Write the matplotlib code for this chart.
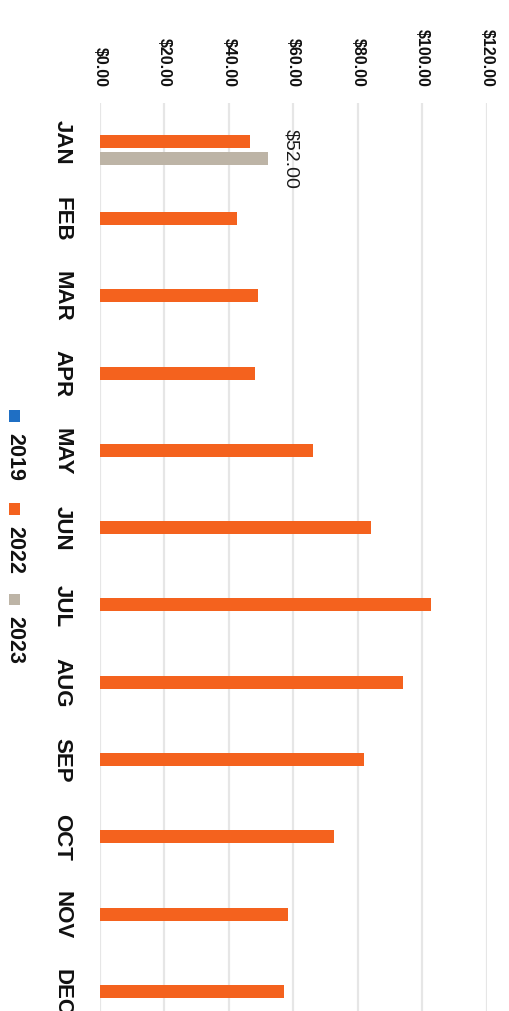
import matplotlib
matplotlib.use("Agg")
import matplotlib.pyplot as plt
from matplotlib.patches import Rectangle
import numpy as np

# Monthly values
months = ["JAN", "FEB", "MAR", "APR", "MAY", "JUN",
          "JUL", "AUG", "SEP", "OCT", "NOV", "DEC"]
series_names = ["2019", "2022", "2023"]
values_2019 = [None] * 12
values_2022 = [46.5, 42.4, 49.1, 48.1, 66.0, 83.9,
               102.7, 94.1, 81.8, 72.6, 58.4, 56.9]
values_2023 = [52.0] + [None] * 11
value_ticks = [0, 20, 40, 60, 80, 100, 120]

colors = {"2019": "#1F6FC4", "2022": "#F4621E", "2023": "#BDB4A6"}

plt.rcParams["font.family"] = ["Liberation Sans", "DejaVu Sans"]

W, H = 510, 1012
fig = plt.figure(figsize=(W / 100, H / 100), dpi=100)
fig.patch.set_facecolor("white")

# plot area in pixels: x 100..487, y 103.5..1031 (runs past the bottom edge)
left, right = 100, 487
top, bottom = 103.5, 1031
ax = fig.add_axes([left / W, 1 - bottom / H, (right - left) / W, (bottom - top) / H])

y = np.arange(len(months))
bar_h = 0.168
offsets = {"2019": -0.22, "2022": 0.0, "2023": 0.22}
series = {"2019": values_2019, "2022": values_2022, "2023": values_2023}

for name in series_names:
    vals = series[name]
    idx = [i for i, v in enumerate(vals) if v is not None]
    if not idx:
        continue
    ax.barh(y[idx] + offsets[name], [vals[i] for i in idx], height=bar_h,
            color=colors[name], edgecolor="none", zorder=3)

# value label on the 2023 January bar
for i, v in enumerate(values_2023):
    if v is not None:
        ax.annotate(f"${v:.2f}", xy=(v, y[i] + offsets["2023"]),
                    xytext=(15, 0), textcoords="offset pixels",
                    rotation=-90, ha="left", va="center",
                    fontsize=14, color="#1a1a1a")

ax.set_xlim(value_ticks[0], value_ticks[-1])
ax.set_ylim(len(months) - 0.5, -0.5)

ax.set_xticks(value_ticks)
ax.set_xticklabels([f"${t:.2f}" for t in value_ticks], rotation=-90,
                   fontsize=11.5, fontweight="bold", color="#111111")
ax.xaxis.tick_top()
ax.tick_params(axis="x", length=0, pad=12)

ax.set_yticks(y)
ax.set_yticklabels(months, rotation=-90, fontsize=16, fontweight="bold",
                   color="#111111", va="center")
ax.tick_params(axis="y", length=0, pad=20)

ax.grid(axis="x", color="#E6E6E6", linewidth=1.6, zorder=0)
for s in ax.spines.values():
    s.set_visible(False)

# legend, laid out along the left edge
leg_x = 15 / W
items = [("2019", 417), ("2022", 510), ("2023", 600)]
for name, ypx in items:
    sq = 11
    fig.add_artist(Rectangle(((leg_x * W - sq / 2) / W, 1 - (ypx + sq / 2) / H),
                             sq / W, sq / H, transform=fig.transFigure,
                             facecolor=colors[name], edgecolor="none"))
    fig.text(leg_x, 1 - (ypx + 40) / H, name, rotation=-90, ha="center",
             va="center", fontsize=15.5, fontweight="bold", color="#111111")

fig.savefig("out.png", dpi=100, facecolor="white")
